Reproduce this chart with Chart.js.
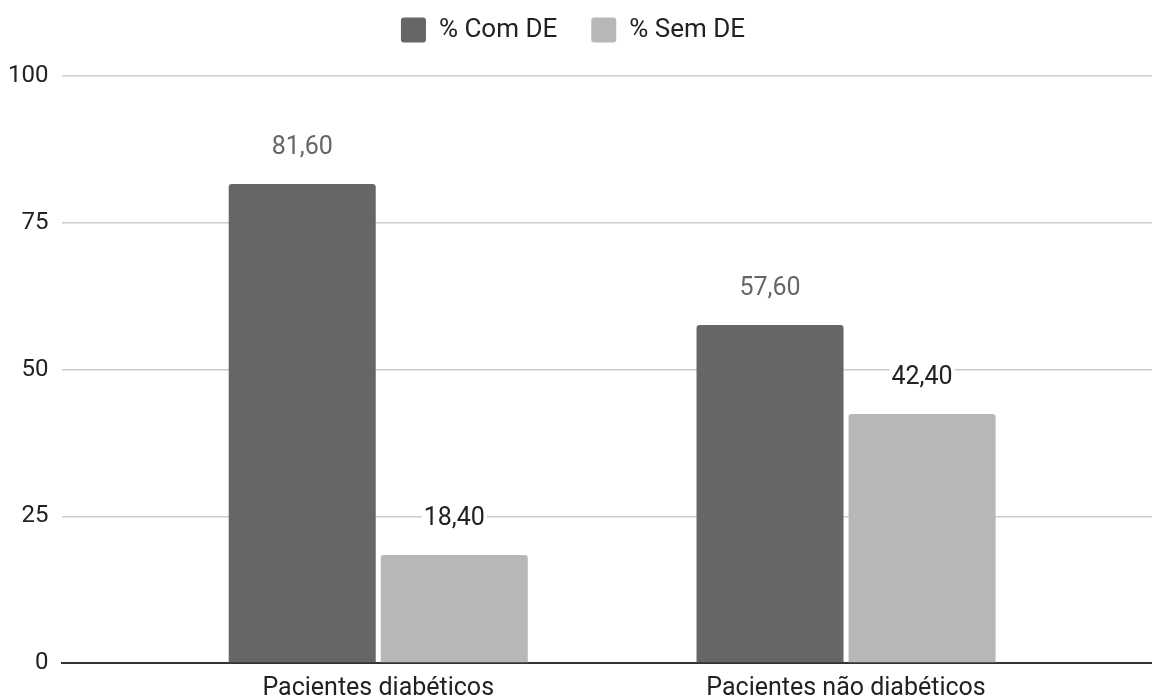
<!DOCTYPE html>
<html>
<head>
<meta charset="utf-8">
<script src="https://cdn.jsdelivr.net/npm/chart.js@4/dist/chart.umd.min.js"></script>
<style>
  html, body { margin: 0; padding: 0; background: #fff; }
  #wrap { width: 1152px; height: 697px; }
</style>
</head>
<body>
<div id="wrap"><canvas id="c"></canvas></div>
<script>
const categories = ['Pacientes diabéticos', 'Pacientes não diabéticos'];
const comDE = [81.60, 57.60];
const semDE = [18.40, 42.40];
const yTicks = [0, 25, 50, 75, 100];

const toPoints = arr => arr.map((v, i) => ({ x: i, y: v }));
const fmt = v => v.toFixed(2).replace('.', ',');

// value labels above each bar, on a white backing so grid lines break around them
const valueLabels = {
  id: 'valueLabels',
  afterDatasetsDraw(chart) {
    const ctx = chart.ctx;
    ctx.save();
    ctx.font = '25px Roboto';
    ctx.textAlign = 'center';
    ctx.textBaseline = 'middle';
    chart.data.datasets.forEach((ds, di) => {
      const meta = chart.getDatasetMeta(di);
      meta.data.forEach((bar, i) => {
        const text = fmt(ds.data[i].y);
        const w = ctx.measureText(text).width;
        const y = bar.y - 37;
        ctx.fillStyle = '#ffffff';
        ctx.fillRect(bar.x - w / 2 - 2, y - 10, w + 4, 20);
        ctx.fillStyle = ds.labelColor;
        ctx.fillText(text, bar.x, y + 1);
      });
    });
    ctx.restore();
  }
};

// extra room between the legend row and the plot
const legendGap = {
  id: 'legendGap',
  beforeInit(chart) {
    const fit = chart.legend.fit;
    chart.legend.fit = function () {
      fit.call(this);
      this.height += 23;
    };
  }
};

new Chart(document.getElementById('c'), {
  type: 'bar',
  data: {
    datasets: [
      {
        label: '% Com DE',
        data: toPoints(comDE),
        backgroundColor: '#666666',
        labelColor: '#666666',
        borderRadius: { topLeft: 3, topRight: 3 },
        borderSkipped: 'bottom',
        categoryPercentage: 0.65,
        barPercentage: 0.967
      },
      {
        label: '% Sem DE',
        data: toPoints(semDE),
        backgroundColor: '#b7b7b7',
        labelColor: '#222222',
        borderRadius: { topLeft: 3, topRight: 3 },
        borderSkipped: 'bottom',
        categoryPercentage: 0.65,
        barPercentage: 0.967
      }
    ]
  },
  options: {
    responsive: true,
    maintainAspectRatio: false,
    animation: false,
    layout: { padding: { left: -6, right: 0, top: -17, bottom: -17 } },
    plugins: {
      tooltip: { enabled: false },
      legend: {
        position: 'top',
        labels: {
          font: { family: 'Roboto', size: 26 },
          color: '#222222',
          boxWidth: 25,
          boxHeight: 25,
          useBorderRadius: true,
          borderRadius: 3,
          padding: 34
        }
      }
    },
    scales: {
      x: {
        type: 'linear',
        offset: false,
        min: -0.675,
        max: 1.654,
        grid: { display: false, drawTicks: false },
        border: { display: true, color: '#333333', width: 2 },
        ticks: {
          stepSize: 1,
          includeBounds: false,
          maxRotation: 0,
          autoSkip: false,
          padding: 13,
          color: '#222222',
          font: { family: 'Roboto', size: 25, lineHeight: 1 },
          callback: v => (Number.isInteger(v) && categories[v] !== undefined) ? categories[v] : ''
        }
      },
      y: {
        min: 0,
        max: 100,
        afterBuildTicks: s => { s.ticks = yTicks.map(v => ({ value: v })); },
        grid: {
          color: ctx => ctx.tick && ctx.tick.value === 0 ? 'rgba(0,0,0,0)' : '#cccccc',
          lineWidth: 1.5,
          drawTicks: false
        },
        border: { display: false },
        ticks: {
          padding: 14,
          color: '#222222',
          font: { family: 'Roboto', size: 24 }
        }
      }
    }
  },
  plugins: [valueLabels, legendGap]
});
</script>
</body>
</html>
